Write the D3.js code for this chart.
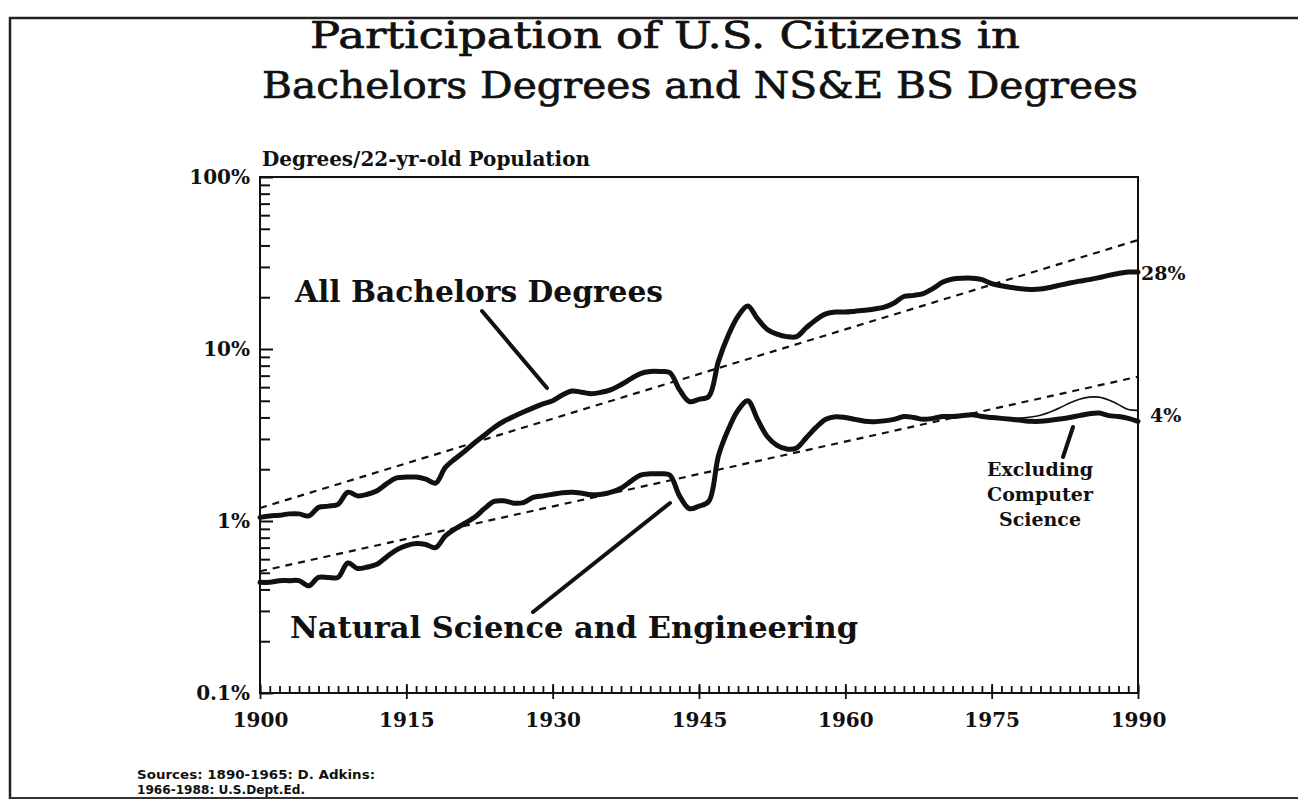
<!DOCTYPE html>
<html><head><meta charset="utf-8">
<script src="https://cdn.jsdelivr.net/npm/d3@7"></script>
<style>
html,body{margin:0;padding:0;background:#fff;}
svg{display:block;}
text{fill:#111;}
</style></head>
<body>
<svg id="chart" width="1298" height="801"></svg>
<script>
// ---------------- DATA ----------------
const titleLines = ["Participation of U.S. Citizens in", "Bachelors Degrees and NS&E BS Degrees"];
const yAxisTitle = "Degrees/22-yr-old Population";
const yTickValues = [0.1, 1, 10, 100];
const yTickLabels = ["0.1%", "1%", "10%", "100%"];
const xTickValues = [1900, 1915, 1930, 1945, 1960, 1975, 1990];
const years = d3.range(1900, 1991);
const allBachelors = [
  1.05,1.07,1.08,1.10,1.10,1.07,1.20,1.22,1.25,1.47,
  1.40,1.43,1.50,1.65,1.78,1.80,1.80,1.75,1.66,2.05,
  2.30,2.55,2.85,3.15,3.50,3.80,4.05,4.30,4.55,4.80,
  5.00,5.40,5.70,5.60,5.50,5.60,5.80,6.20,6.70,7.20,
  7.40,7.40,7.30,5.80,4.95,5.10,5.30,8.50,12.0,15.5,
  17.8,15.0,13.0,12.2,11.8,11.8,13.3,14.8,16.0,16.4,
  16.4,16.6,16.8,17.1,17.5,18.5,20.2,20.5,21.0,22.5,
  24.5,25.5,25.8,25.8,25.3,24.0,23.3,22.8,22.4,22.2,
  22.3,22.8,23.5,24.2,24.8,25.3,26.0,26.8,27.5,28.0,28.0
];
const nseExclCS = [
  0.44,0.44,0.45,0.45,0.45,0.42,0.47,0.47,0.47,0.57,
  0.53,0.54,0.56,0.62,0.68,0.72,0.74,0.73,0.70,0.82,
  0.90,0.97,1.05,1.18,1.30,1.31,1.27,1.28,1.37,1.40,
  1.43,1.46,1.47,1.45,1.42,1.43,1.47,1.55,1.70,1.85,
  1.88,1.88,1.85,1.40,1.18,1.22,1.30,2.40,3.40,4.40,
  5.00,3.90,3.10,2.75,2.62,2.66,3.05,3.50,3.90,4.04,
  4.00,3.90,3.80,3.78,3.82,3.90,4.05,4.00,3.90,3.95,
  4.05,4.05,4.10,4.15,4.05,4.00,3.95,3.90,3.85,3.80,
  3.80,3.85,3.92,4.00,4.10,4.20,4.24,4.10,4.05,3.95,3.80
];
const nseYears = d3.range(1975, 1991);
const nseInclCS = [4.00,3.97,3.95,3.97,4.02,4.12,4.30,4.55,4.85,5.10,5.25,5.25,5.05,4.75,4.45,4.40];
const trendYears = [1900, 1990];
const trendAll = [1.19, 43];
const trendNSE = [0.51, 6.9];
const endLabels = ["28%", "4%"];
const seriesLabels = ["All Bachelors Degrees", "Natural Science and Engineering"];
const noteLines = ["Excluding", "Computer", "Science"];
const sourceLines = ["Sources: 1890-1965: D. Adkins:", "1966-1988: U.S.Dept.Ed."];

// ---------------- CHART ----------------
const svg = d3.select("#chart");
const serif = "'DejaVu Serif', 'Liberation Serif', serif";
const x = d3.scaleLinear().domain([1900, 1990]).range([260, 1138]);
const y = d3.scaleLog().domain([0.1, 100]).range([693, 177]);

// outer frame
svg.append("path").attr("d", "M10,799 L10,18 L1298,18").attr("fill", "none").attr("stroke", "#222").attr("stroke-width", 2.5);
svg.append("line").attr("x1", 10).attr("x2", 1298).attr("y1", 798).attr("y2", 798).attr("stroke", "#333").attr("stroke-width", 2);

// titles
svg.append("text").attr("x", 310).attr("y", 48).attr("font-family", serif).attr("font-size", 37)
  .attr("stroke", "#111").attr("stroke-width", 0.7)
  .attr("textLength", 710).attr("lengthAdjust", "spacingAndGlyphs").text(titleLines[0]);
svg.append("text").attr("x", 262).attr("y", 98).attr("font-family", serif).attr("font-size", 37)
  .attr("stroke", "#111").attr("stroke-width", 0.7)
  .attr("textLength", 876).attr("lengthAdjust", "spacingAndGlyphs").text(titleLines[1]);
svg.append("text").attr("x", 262).attr("y", 166).attr("font-family", serif).attr("font-size", 20).attr("font-weight", "bold")
  .attr("textLength", 328).attr("lengthAdjust", "spacingAndGlyphs").text(yAxisTitle);

// plot box
svg.append("rect").attr("x", x(1900)).attr("y", y(100)).attr("width", x(1990) - x(1900)).attr("height", y(0.1) - y(100))
  .attr("fill", "none").attr("stroke", "#111").attr("stroke-width", 2);

// y axis ticks
const minorY = [];
[0.1, 1, 10].forEach(d => { for (let k = 2; k <= 9; k++) minorY.push(d * k); });
const gyMinor = svg.append("g").attr("transform", `translate(${x(1900)},0)`)
  .call(d3.axisLeft(y).tickValues(minorY).tickSize(-10).tickFormat(""));
const gyMajor = svg.append("g").attr("transform", `translate(${x(1900)},0)`)
  .call(d3.axisLeft(y).tickValues(yTickValues).tickSize(-13).tickPadding(10)
    .tickFormat((d, i) => yTickLabels[i]));
[gyMinor, gyMajor].forEach(g => {
  g.select(".domain").remove();
  g.selectAll("line").attr("stroke", "#111").attr("stroke-width", 2);
});
gyMajor.selectAll("text").attr("font-family", serif).attr("font-size", 20).attr("font-weight", "bold").attr("fill", "#111");

// x axis ticks
const gxMinor = svg.append("g").attr("transform", `translate(0,${y(0.1)})`)
  .call(d3.axisBottom(x).tickValues(years).tickSize(-7).tickFormat(""));
const gxMajorUp = svg.append("g").attr("transform", `translate(0,${y(0.1)})`)
  .call(d3.axisBottom(x).tickValues(xTickValues).tickSize(-9).tickFormat(""));
const gxMajor = svg.append("g").attr("transform", `translate(0,${y(0.1)})`)
  .call(d3.axisBottom(x).tickValues(xTickValues).tickSize(6).tickPadding(14).tickFormat(d3.format("d")));
[gxMinor, gxMajorUp, gxMajor].forEach(g => {
  g.select(".domain").remove();
  g.selectAll("line").attr("stroke", "#111").attr("stroke-width", 1.8);
});
gxMajor.selectAll("text").attr("font-family", serif).attr("font-size", 20).attr("font-weight", "bold").attr("fill", "#111");

// trend lines
const trendLine = d3.line().x((d, i) => x(trendYears[i])).y(d => y(d));
[trendAll, trendNSE].forEach(t => {
  svg.append("path").attr("d", trendLine(t)).attr("fill", "none").attr("stroke", "#111")
    .attr("stroke-width", 2.2).attr("stroke-dasharray", "7,6");
});

// series
const lineYear = d3.line().x((d, i) => x(years[i])).y(d => y(d)).curve(d3.curveCatmullRom.alpha(0.5));
svg.append("path").attr("d", lineYear(allBachelors)).attr("fill", "none").attr("stroke", "#111")
  .attr("stroke-width", 5).attr("stroke-linejoin", "round").attr("stroke-linecap", "round");
svg.append("path").attr("d", lineYear(nseExclCS)).attr("fill", "none").attr("stroke", "#111")
  .attr("stroke-width", 5).attr("stroke-linejoin", "round").attr("stroke-linecap", "round");
const lineThin = d3.line().x((d, i) => x(nseYears[i])).y(d => y(d)).curve(d3.curveCatmullRom.alpha(0.5));
svg.append("path").attr("d", lineThin(nseInclCS)).attr("fill", "none").attr("stroke", "#111").attr("stroke-width", 1.6);

// end labels
svg.append("text").attr("x", x(1990) + 3).attr("y", y(allBachelors[90]) + 8).attr("font-family", serif)
  .attr("font-size", 19).attr("font-weight", "bold").text(endLabels[0]);
svg.append("text").attr("x", x(1990) + 12).attr("y", y(4.2) + 8).attr("font-family", serif)
  .attr("font-size", 19).attr("font-weight", "bold").text(endLabels[1]);

// series labels and pointers
svg.append("text").attr("x", 295).attr("y", 302).attr("font-family", serif).attr("font-size", 30).attr("font-weight", "bold")
  .attr("textLength", 368).attr("lengthAdjust", "spacingAndGlyphs").text(seriesLabels[0]);
svg.append("text").attr("x", 290).attr("y", 638).attr("font-family", serif).attr("font-size", 30).attr("font-weight", "bold")
  .attr("textLength", 568).attr("lengthAdjust", "spacingAndGlyphs").text(seriesLabels[1]);

const pointers = [
  [[482, 311], [547, 388]],
  [[533, 612], [670, 503]],
  [[1063, 457], [1073, 427]]
];
pointers.forEach(p => {
  svg.append("line").attr("x1", p[0][0]).attr("y1", p[0][1]).attr("x2", p[1][0]).attr("y2", p[1][1])
    .attr("stroke", "#111").attr("stroke-width", 4).attr("stroke-linecap", "round");
});

// note
noteLines.forEach((t, i) => {
  svg.append("text").attr("x", 1040).attr("y", 476 + i * 25).attr("text-anchor", "middle")
    .attr("font-family", serif).attr("font-size", 19).attr("font-weight", "bold").text(t);
});

// sources
const srcLens = [238, 168];
sourceLines.forEach((t, i) => {
  svg.append("text").attr("x", 137).attr("y", 779 + i * 15).attr("font-family", "'DejaVu Sans', sans-serif")
    .attr("font-size", 13).attr("font-weight", "bold")
    .attr("textLength", srcLens[i]).attr("lengthAdjust", "spacingAndGlyphs").text(t);
});
</script>
</body></html>
